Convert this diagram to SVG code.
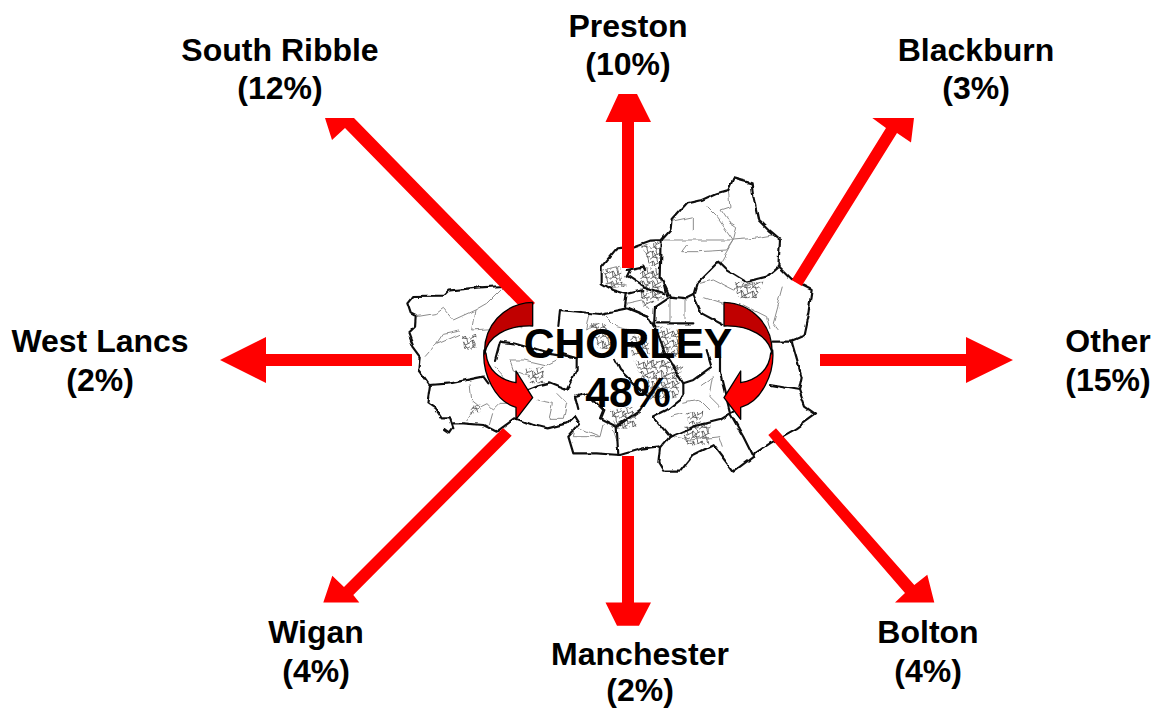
<svg xmlns="http://www.w3.org/2000/svg" width="1162" height="708" viewBox="0 0 1162 708">
<style>
.lbl{font-family:"Liberation Sans",Arial,sans-serif;font-weight:700;font-size:32px;fill:#000;text-anchor:middle}
.ctr{font-family:"Liberation Sans",Arial,sans-serif;font-weight:700;font-size:42.7px;fill:#000;text-anchor:middle}
.arrow{fill:#ff0000;stroke:none}
.bold{fill:none;stroke:#111;stroke-width:6.5;stroke-linejoin:round;stroke-linecap:round}
.thin{fill:none;stroke:#8c8c8c;stroke-width:3;stroke-linejoin:round}
.dense{fill:url(#mesh);stroke:none}
.dark{fill:#c00000;stroke:#000;stroke-width:4;stroke-linejoin:round}
.bright{fill:#ff0000;stroke:#000;stroke-width:4;stroke-linejoin:round}
</style>
<defs>
<filter id="rough" x="-5%" y="-5%" width="110%" height="110%">
<feTurbulence type="fractalNoise" baseFrequency="0.025" numOctaves="2" seed="4" result="n"/>
<feDisplacementMap in="SourceGraphic" in2="n" scale="15" xChannelSelector="R" yChannelSelector="G"/>
<feGaussianBlur stdDeviation="0.8"/>
</filter>
<pattern id="mesh" width="30" height="30" patternUnits="userSpaceOnUse">
<path d="M0,8 L10,3 L16,15 L30,8 M7,3 L9,21 L0,28 M16,15 L22,30 M21,0 L25,12 M9,21 L24,24 L30,20 M16,15 L9,21" fill="none" stroke="#555" stroke-width="2.6"/>
</pattern>
<g id="turn">
<path class="bright" d="M252,540 C246,610 285,695 348,712 L348,748 L398,683 L348,603 L348,638 C300,630 262,600 258,550 Z"/>
<path class="dark" d="M398,397 C310,400 250,470 254,552 C262,500 320,465 398,468 Z"/>
</g>
</defs>
<rect width="1162" height="708" fill="#fff"/>
<g id="map" transform="translate(400,170) scale(0.33333)" filter="url(#rough)">
<g id="urban">
<path class="dense" d="M725,225 L785,215 L785,290 L745,290 Z"/>
<path class="dense" d="M720,295 L780,295 L790,385 L730,410 L720,350 Z"/>
<path class="dense" d="M770,470 L840,480 L850,560 L790,560 Z"/>
<path class="dense" d="M700,570 L780,570 L850,590 L830,680 L750,690 Z"/>
<path class="dense" d="M625,720 L700,710 L710,770 L650,775 Z"/>
<path class="dense" d="M850,770 L930,755 L925,820 L860,825 Z"/>
<path class="dense" d="M1000,340 L1090,335 L1070,385 L1020,385 Z"/>
<path class="dense" d="M375,600 L430,590 L435,640 L390,640 Z"/>
<path class="dense" d="M185,495 L230,495 L225,540 L190,540 Z"/>
<path class="dense" d="M210,705 L245,700 L240,730 L215,730 Z"/>
<path class="dense" d="M610,300 L660,290 L675,350 L625,355 Z"/>
<path class="dense" d="M570,460 L620,460 L640,540 L590,530 Z"/>
<path class="dense" d="M690,500 L740,490 L750,550 L700,560 Z"/>
<path class="dense" d="M860,730 L910,720 L905,760 L865,765 Z"/>
</g>
<g id="thinlines">
<path class="thin" d="M50,440 L110,430 L130,415 L160,450 L225,420 L260,400 L310,350"/>
<path class="thin" d="M225,420 L215,480 L290,475 L370,470"/>
<path class="thin" d="M75,560 L110,520 L180,490 M110,520 L130,490 L180,480"/>
<path class="thin" d="M210,640 L215,690 L240,710 L260,700 L280,720 L300,700 L340,700"/>
<path class="thin" d="M200,750 L225,715 M265,765 L275,730"/>
<path class="thin" d="M330,570 L375,570 L440,585 L470,570 M330,570 L340,600 L390,620"/>
<path class="thin" d="M410,690 L460,700 L450,745 L490,745 L500,700 L470,670"/>
<path class="thin" d="M530,770 L600,800 L610,760 M640,780 L650,810"/>
<path class="thin" d="M570,430 L560,480 L590,460 M610,430 L650,470 L690,480"/>
<path class="thin" d="M810,155 L880,140 L880,180 M920,110 L950,140 L1000,210 L1060,205 L1120,195"/>
<path class="thin" d="M985,60 L990,110 L960,120 L980,150 L1010,170 L1000,210 L960,280"/>
<path class="thin" d="M785,210 L1000,210 L980,240 L900,245 L845,245 L860,225"/>
<path class="thin" d="M900,340 L940,330 L1000,360 L1060,340 M1150,350 L1120,460 L1135,480"/>
<path class="thin" d="M1020,400 L1100,440 L1110,480 M910,380 L970,400"/>
<path class="thin" d="M855,385 L855,450 M810,380 L810,460"/>
<path class="thin" d="M900,650 L940,620 L930,680 L960,710 M850,700 L900,690 L930,720"/>
<path class="thin" d="M820,800 L870,810 L960,800 L970,830 M810,740 L850,730"/>
<path class="thin" d="M610,300 L650,290 L665,330 M620,340 L680,345"/>
<path class="thin" d="M680,400 L725,390 L750,420"/>
<path class="thin" d="M525,780 L520,800 L600,800 M330,640 L285,590"/>
</g>
<g id="boundaries">
<path class="bold" d="M310,348 L240,352 L145,362 L130,377 L40,378 L22,400 L32,430 L47,438 L45,470 L25,490 L40,530 L62,560 L58,600 L90,645 L82,700 L105,715 L125,745 L150,745 L160,775 L150,790 L135,780 M160,760 L190,760 L250,765 L290,785 L345,745 L400,765 L440,775 L500,760 L525,735 L540,760 L505,800 L520,850 L590,850 L660,855 L730,835 L770,830 L780,835 L775,880 L790,905 L840,905 L880,855 L940,825 L1000,905 L1060,860 L1065,850 L1110,820 L1190,775 L1248,733 L1215,710 L1197,660 L1205,620 L1175,515 L1210,500 L1225,430 L1235,360 L1205,345 L1175,330 L1135,290 L1140,210 L1110,185 L1075,150 L1060,80 L1055,40 L1000,25 L985,60 L950,70 L905,90 L860,100 L815,150 L812,180 L785,210 L750,212 L700,230 L650,235 L605,290 L605,340 L640,360 L680,372 L675,410 L745,440"/>
<path class="bold" d="M90,645 L150,640 L250,620 L265,640 M300,515 L340,520 L375,530 L440,550 L530,565 L530,600 L500,660 L450,640 L410,650 L385,660"/>
<path class="bold" d="M480,420 L475,465 M480,420 L600,432 L680,415 L745,440 L762,470 L765,410 L810,380 L860,385 L880,375 L890,340 L955,275 L975,295 L1040,335 L1100,320 L1135,290"/>
<path class="bold" d="M785,210 L782,320 L810,380 M880,375 L905,430 L970,465 M1118,515 L1175,515 M1110,645 L1197,660"/>
<path class="bold" d="M990,730 L1030,800 L1060,860 M810,800 L880,770 L960,750 L1000,725 M810,800 L780,835 M650,770 L655,855 M600,745 L650,770 M530,680 L560,670 L610,720 L600,745"/>
<path class="bold" d="M770,460 L880,460 M765,470 L800,560 L850,640 L850,680 L800,720 L760,740 L810,800 M645,570 L660,600 L700,640 L745,680 L720,720 L650,770"/>
<path class="bold" d="M790,340 L800,380 M685,320 L730,350 L790,370 M680,372 L730,360 M935,590 L880,630 L850,640 M935,590 L920,540 M960,560 L960,610 L990,730"/>
<path class="bold" d="M680,300 L730,290 L735,300 M680,320 L690,300 M525,680 L535,720 M480,550 L530,565 M300,515 L285,570"/>
</g>
</g>
<g id="connectors">
<path id="c-preston" class="arrow" d="M622,268 L622,122 L605.5,122 L618.5,94 L637,94 L651,122 L634,122 L634,268 Z"/>
<path id="c-manchester" class="arrow" d="M622,456 L622,602.5 L605.5,602.5 L617,625.7 L639,625.7 L651,602.5 L634,602.5 L634,456 Z"/>
<path id="c-southribble" class="arrow" d="M325,118 L354,118 L535,303 L525,312 L345,128 L332,140 Z"/>
<path id="c-blackburn" class="arrow" d="M872.3,118 L914,118 L911,142.5 L897,133 L801.7,286 L791.7,280 L886,128 Z"/>
<path id="c-wigan" class="arrow" d="M323.3,602.6 L359.3,602.6 L353.3,595 L511.7,435.7 L503,428 L344,587 L332.3,575.7 Z"/>
<path id="c-bolton" class="arrow" d="M895,602.6 L934.3,602.6 L927.3,574.7 L914.3,585 L776,428.3 L768.3,435 L905,593 Z"/>
<path id="c-westlancs" class="arrow" d="M412,354 L266,354 L266,337 L220,360 L266,383 L266,366 L412,366 Z"/>
<path id="c-other" class="arrow" d="M820,354 L966,354 L966,337 L1013,360 L966,383 L966,366 L820,366 Z"/>
</g>
<g id="turn-left" transform="translate(400,170) scale(0.33333)"><use href="#turn"/></g>
<g id="turn-right" transform="translate(856.67,170) scale(-0.33333,0.33333)"><use href="#turn"/></g>
<g id="chorley"><text class="ctr" x="628" y="358">CHORLEY</text><text class="ctr" x="628" y="407">48%</text></g>
<g id="south-ribble"><text class="lbl" x="280" y="61">South Ribble</text><text class="lbl" x="280" y="99">(12%)</text></g>
<g id="preston"><text class="lbl" x="628" y="37">Preston</text><text class="lbl" x="628" y="75">(10%)</text></g>
<g id="blackburn"><text class="lbl" x="976" y="61">Blackburn</text><text class="lbl" x="976" y="99">(3%)</text></g>
<g id="west-lancs"><text class="lbl" x="100" y="352">West Lancs</text><text class="lbl" x="100" y="391">(2%)</text></g>
<g id="other"><text class="lbl" x="1108" y="352">Other</text><text class="lbl" x="1108" y="391">(15%)</text></g>
<g id="wigan"><text class="lbl" x="316" y="643">Wigan</text><text class="lbl" x="316" y="682">(4%)</text></g>
<g id="manchester"><text class="lbl" x="640" y="665">Manchester</text><text class="lbl" x="640" y="701">(2%)</text></g>
<g id="bolton"><text class="lbl" x="928" y="643">Bolton</text><text class="lbl" x="928" y="682">(4%)</text></g>
</svg>
